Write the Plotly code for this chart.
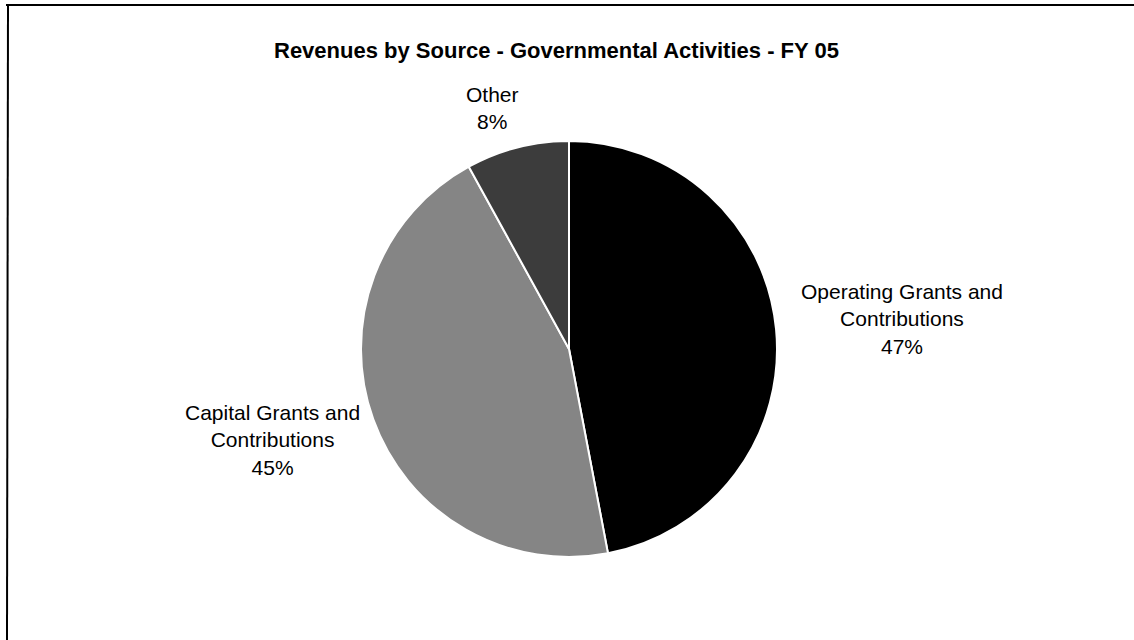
import plotly.graph_objects as go

labels = ["Operating Grants and Contributions", "Capital Grants and Contributions", "Other"]
values = [47, 45, 8]
colors = ["#000000", "#858585", "#3c3c3c"]
label_lines = [["Operating Grants and", "Contributions", "47%"],
               ["Capital Grants and", "Contributions", "45%"],
               ["Other", "8%"]]
title_text = "Revenues by Source - Governmental Activities - FY 05"

W, H = 1134, 640
cx, cy, r = 569, 349, 208

fig = go.Figure(go.Pie(
    labels=labels, values=values, sort=False, direction="clockwise", rotation=0,
    marker=dict(colors=colors, line=dict(color="white", width=2)),
    textinfo="none", hoverinfo="label+percent", showlegend=False,
    domain=dict(x=[(cx - r) / W, (cx + r) / W], y=[(H - cy - r) / H, (H - cy + r) / H]),
))

font = dict(family="Liberation Sans, Arial, sans-serif", size=21, color="black")
label_pos = [(902, 319), (272, 440), (492, 108)]
anns = []
for lines, (x, y) in zip(label_lines, label_pos):
    anns.append(dict(text="<br>".join(lines), x=x / W, y=1 - y / H, xref="paper", yref="paper",
                     showarrow=False, font=font, align="center", xanchor="center", yanchor="middle"))
anns.append(dict(text="<b>" + title_text + "</b>",
                 x=556 / W, y=1 - 50 / H, xref="paper", yref="paper", showarrow=False,
                 font=dict(family="Liberation Sans, Arial, sans-serif", size=22, color="black"),
                 xanchor="center", yanchor="middle"))

fig.update_layout(
    width=W, height=H, margin=dict(l=0, r=0, t=0, b=0),
    paper_bgcolor="white", plot_bgcolor="white",
    annotations=anns,
    shapes=[
        dict(type="line", xref="paper", yref="paper", x0=7 / W, x1=8 / W, y0=0, y1=1 - 5 / H,
             line=dict(color="black", width=2)),
        dict(type="line", xref="paper", yref="paper", x0=6 / W, x1=1, y0=1 - 5 / H, y1=1 - 5 / H,
             line=dict(color="black", width=2)),
    ],
)
fig.write_html("out.html", config={"displayModeBar": False},
               post_script="document.body.style.margin='0px';")
